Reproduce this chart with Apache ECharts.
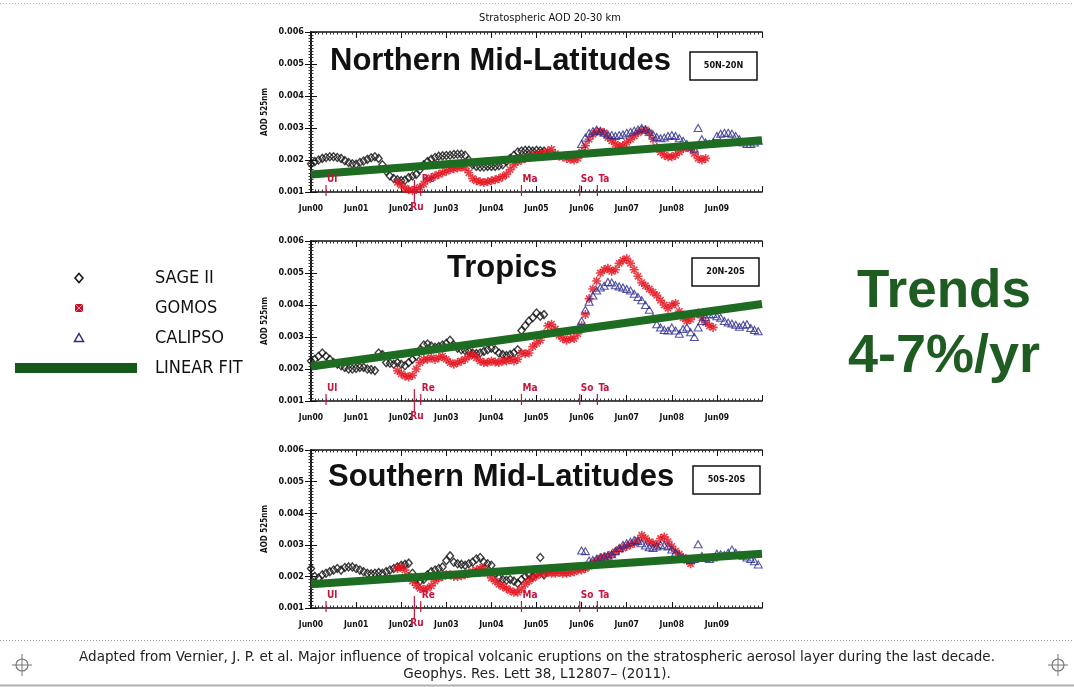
<!DOCTYPE html>
<html><head><meta charset="utf-8">
<script src="https://cdn.jsdelivr.net/npm/echarts@6/dist/echarts.min.js"></script>
<style>html,body{margin:0;padding:0;background:#fff}#c{width:1074px;height:687px}</style>
</head><body><div id="c"></div><script>
// ---------- data (AOD in units of 0.001, monthly, month 0 = Jun 2000) ----------
const xTickLabels = ['Jun00','Jun01','Jun02','Jun03','Jun04','Jun05','Jun06','Jun07','Jun08','Jun09'];
const panelTitles = ['Northern Mid-Latitudes','Tropics','Southern Mid-Latitudes'];
const bandLabels = ['50N-20N','20N-20S','50S-20S'];
const volcanoNames = ['Ul','Ru','Re','Ma','So','Ta'];
const volcanoMonths = [4, 27.5, 29.2, 56, 71.5, 76.2];
const volcanoBelow = [false, true, false, false, false, false];
const sageStart = 0, gomosStart = 23, calipsoStart = 72;
const fitMonths = [0, 120];

const sageNH = [1.88,1.95,2.0,2.05,2.08,2.1,2.1,2.08,2.05,1.98,1.92,1.88,1.87,1.92,1.97,2.02,2.07,2.1,2.05,1.85,1.65,1.5,1.42,1.38,1.36,1.37,1.45,1.5,1.55,1.7,1.85,1.95,2.02,2.08,2.12,2.13,2.14,2.15,2.17,2.18,2.18,2.15,2.0,1.85,1.8,1.78,1.78,1.8,1.8,1.8,1.82,1.85,1.95,2.05,2.15,2.25,2.28,2.3,2.3,2.28,2.3,2.29,2.28];
const gomosNH = [1.3,1.22,1.12,1.07,1.05,1.08,1.15,1.25,1.38,1.45,1.5,1.55,1.6,1.65,1.7,1.73,1.75,1.78,1.75,1.6,1.42,1.35,1.32,1.3,1.32,1.35,1.38,1.42,1.48,1.55,1.7,1.85,1.95,2.0,2.05,2.1,2.12,2.15,2.2,2.22,2.28,2.33,2.2,2.12,2.1,2.05,2.02,2.0,2.05,2.25,2.45,2.65,2.8,2.88,2.9,2.85,2.7,2.6,2.5,2.42,2.45,2.55,2.65,2.75,2.85,2.92,2.95,2.85,2.65,2.4,2.25,2.15,2.1,2.1,2.15,2.25,2.35,2.4,2.35,2.2,2.05,2.0,2.05];
const calipsoNH = [2.5,2.7,2.85,2.9,2.95,2.9,2.85,2.8,2.78,2.75,2.78,2.8,2.85,2.88,2.92,2.95,3.0,2.95,2.88,2.8,2.72,2.68,2.7,2.75,2.78,2.75,2.68,2.6,2.5,2.42,2.35,3.0,2.65,2.55,2.5,2.55,2.75,2.82,2.85,2.85,2.82,2.75,2.65,2.55,2.5,2.5,2.55,2.6];
const fitNH = [1.55, 2.62];

const sageTR = [2.25,2.3,2.4,2.5,2.4,2.3,2.2,2.15,2.1,2.05,2.0,2.0,2.02,2.05,2.05,2.0,1.98,1.95,2.5,2.45,2.2,2.18,2.15,2.2,2.15,2.1,2.2,2.3,2.4,2.6,2.75,2.78,2.72,2.68,2.7,2.75,2.8,2.9,2.75,2.65,2.6,2.58,2.55,2.5,2.48,2.5,2.55,2.6,2.65,2.6,2.5,2.45,2.42,2.45,2.5,2.6,3.2,3.35,3.5,3.6,3.75,3.65,3.7];
const gomosTR = [1.95,1.85,1.78,1.75,1.8,2.0,2.2,2.3,2.3,2.35,2.3,2.35,2.4,2.3,2.2,2.15,2.2,2.25,2.3,2.4,2.45,2.35,2.25,2.2,2.2,2.25,2.22,2.2,2.25,2.25,2.3,2.25,2.3,2.5,2.48,2.5,2.7,2.8,2.9,3.1,3.35,3.4,3.25,3.05,2.95,2.9,2.95,2.95,3.1,3.35,3.7,4.2,4.5,4.75,5.0,5.1,5.15,5.05,5.1,5.3,5.4,5.45,5.3,5.1,4.9,4.7,4.6,4.5,4.4,4.3,4.15,4.0,3.9,4.0,4.05,3.8,3.6,3.5,3.55,3.7,3.75,3.6,3.45,3.35,3.3];
const calipsoTR = [3.5,3.85,4.1,4.3,4.45,4.55,4.6,4.72,4.7,4.62,4.58,4.55,4.5,4.45,4.35,4.25,4.15,4.0,3.85,3.6,3.4,3.3,3.22,3.2,3.3,3.2,3.1,3.25,3.3,3.15,3.0,3.3,3.5,3.62,3.7,3.72,3.65,3.6,3.5,3.45,3.42,3.38,3.32,3.38,3.4,3.28,3.22,3.18];
const fitTR = [2.08, 4.03];

const sageSH = [2.25,2.0,1.95,2.05,2.1,2.15,2.2,2.25,2.2,2.28,2.3,2.3,2.25,2.2,2.15,2.1,2.08,2.1,2.12,2.1,2.15,2.2,2.25,2.3,2.35,2.38,2.42,2.1,1.9,1.85,1.9,2.05,2.15,2.2,2.25,2.3,2.5,2.65,2.45,2.4,2.38,2.35,2.4,2.45,2.55,2.6,2.45,2.4,2.35,2.1,1.95,1.9,1.88,1.9,1.85,1.78,1.9,2.0,2.05,2.0,2.1,2.6,2.05];
const gomosSH = [2.25,2.3,2.2,2.0,1.85,1.72,1.62,1.58,1.62,1.7,1.85,1.95,2.0,2.05,2.05,2.0,2.0,2.02,2.05,2.1,2.15,2.2,2.25,2.25,2.1,1.95,1.85,1.75,1.68,1.62,1.55,1.5,1.5,1.6,1.75,1.85,1.95,2.02,2.08,2.1,2.12,2.1,2.1,2.12,2.1,2.1,2.12,2.15,2.2,2.2,2.25,2.32,2.42,2.5,2.58,2.62,2.65,2.7,2.78,2.85,2.9,2.95,3.0,3.05,3.15,3.3,3.2,3.1,3.05,3.0,3.2,3.25,3.1,2.95,2.8,2.7,2.6,2.5,2.4];
const calipsoSH = [2.82,2.8,2.5,2.52,2.55,2.6,2.62,2.65,2.7,2.8,2.9,3.0,3.05,3.1,3.15,3.12,3.05,2.98,2.92,2.9,2.95,3.0,2.98,2.95,2.85,2.75,2.65,2.58,2.55,2.52,2.55,3.02,2.65,2.58,2.55,2.6,2.72,2.7,2.68,2.75,2.85,2.75,2.68,2.65,2.6,2.55,2.48,2.38];
const fitSH = [1.75, 2.72];

const panels = [
  {sage: sageNH, gomos: gomosNH, calipso: calipsoNH, fit: fitNH},
  {sage: sageTR, gomos: gomosTR, calipso: calipsoTR, fit: fitTR},
  {sage: sageSH, gomos: gomosSH, calipso: calipsoSH, fit: fitSH}
];

// ---------- layout / style ----------
const GL = 311, GW = 451;
const gridTops = [32, 241, 450], gridHs = [160, 160, 158];
const FONT = 'Liberation Sans, Arial, sans-serif';
const NARROW = 'Liberation Sans Narrow, DejaVu Sans Condensed, Liberation Sans, sans-serif';
const RED = '#e3101c', BLUE = '#2c2c8e', GREEN = '#1e6b22', VRED = '#c8143c';
const asterisk = 'path://M5,0L5,10M0,5L10,5M1.5,1.5L8.5,8.5M1.5,8.5L8.5,1.5';
const milli = v => v * 1e-3;

const grids = [], xAxes = [], yAxes = [], series = [];
gridTops.forEach((t, gi) => {
  grids.push({left: GL, top: t, width: GW, height: gridHs[gi], show: false});
  ['bottom', 'top'].forEach(pos => xAxes.push({
    type: 'value', gridIndex: gi, position: pos, min: 0, max: 120, interval: 12,
    axisLine: {show: true, onZero: false, lineStyle: {color: '#111', width: 1.6}},
    axisTick: {show: true, inside: true, length: 6, lineStyle: {color: '#111', width: 1}},
    minorTick: {show: true, splitNumber: 12, length: 2.5, lineStyle: {color: '#333', width: 1}},
    splitLine: {show: false},
    axisLabel: {show: pos === 'bottom', margin: 12, color: '#111', fontSize: 8.5, fontWeight: 'bold', fontFamily: NARROW,
      formatter: v => xTickLabels[Math.round(v / 12)] || ''}
  }));
  ['left', 'right'].forEach(pos => yAxes.push({
    type: 'value', gridIndex: gi, position: pos, min: 0.001, max: 0.006, interval: 0.001,
    name: pos === 'left' ? 'AOD 525nm' : '', nameLocation: 'middle', nameGap: 42, nameRotate: 90,
    nameTextStyle: {color: '#111', fontSize: 8, fontWeight: 'bold', fontFamily: NARROW},
    axisLine: {show: true, lineStyle: {color: '#111', width: 1.6}},
    axisTick: {show: true, inside: true, length: 6, lineStyle: {color: '#111', width: 1}},
    minorTick: {show: true, splitNumber: 10, length: 2.5, lineStyle: {color: '#333', width: 1}},
    splitLine: {show: false},
    axisLabel: {show: pos === 'left', margin: 7, color: '#111', fontSize: 9, fontWeight: 'bold', fontFamily: NARROW,
      formatter: v => v.toFixed(3)}
  }));
  const p = panels[gi];
  const xi = 2 * gi, yi = 2 * gi;
  series.push({
    type: 'scatter', name: 'SAGE II', xAxisIndex: xi, yAxisIndex: yi, symbol: 'diamond', symbolSize: [7, 8],
    itemStyle: {color: 'rgba(0,0,0,0)', borderColor: '#111', borderWidth: 1.4},
    data: p.sage.map((v, i) => [sageStart + i, milli(v)]), z: 3
  });
  series.push({
    type: 'scatter', name: 'GOMOS', xAxisIndex: xi, yAxisIndex: yi, symbol: asterisk, symbolSize: 9,
    itemStyle: {color: 'rgba(0,0,0,0)', borderColor: RED, borderWidth: 1.6},
    data: p.gomos.map((v, i) => [gomosStart + i, milli(v)]), z: 4
  });
  series.push({
    type: 'scatter', name: 'CALIPSO', xAxisIndex: xi, yAxisIndex: yi, symbol: 'triangle', symbolSize: [8, 7],
    itemStyle: {color: 'rgba(0,0,0,0)', borderColor: BLUE, borderWidth: 1.1},
    data: p.calipso.map((v, i) => [calipsoStart + i, milli(v)]), z: 5
  });
  series.push({
    type: 'line', name: 'LINEAR FIT', xAxisIndex: xi, yAxisIndex: yi, symbol: 'none',
    lineStyle: {color: GREEN, width: 8}, data: fitMonths.map((m, i) => [m, milli(p.fit[i])]), z: 6
  });
  series.push({
    type: 'custom', xAxisIndex: xi, yAxisIndex: yi, clip: false, z: 7,
    data: volcanoMonths.map((m, i) => [m, i]),
    renderItem: (params, api) => {
      const k = api.value(1);
      const c = api.coord([api.value(0), 0.001]);
      const below = volcanoBelow[k];
      return {type: 'group', children: [
        {type: 'line', shape: {x1: c[0], y1: c[1] + (below ? 11 : 4), x2: c[0], y2: c[1] - (below ? 12 : 7)},
          style: {stroke: VRED, lineWidth: 1.2}},
        {type: 'text', x: c[0] + (below ? -4 : 1), y: below ? c[1] + 10 : c[1] - 8,
          style: {text: volcanoNames[k], fill: VRED, font: 'bold 10px ' + NARROW,
            align: 'left', verticalAlign: below ? 'top' : 'bottom'}}
      ]};
    }
  });
});

const titles = [
  {text: 'Stratospheric AOD 20-30 km', left: 550, top: 13, textAlign: 'center', padding: 0,
    textStyle: {fontSize: 11, fontWeight: 'normal', color: '#111', fontFamily: NARROW}},
  {text: panelTitles[0], left: 330, top: 46, padding: 0, textStyle: {fontSize: 31, fontWeight: 'bold', color: '#111', fontFamily: FONT}},
  {text: panelTitles[1], left: 447, top: 253, padding: 0, textStyle: {fontSize: 31, fontWeight: 'bold', color: '#111', fontFamily: FONT}},
  {text: panelTitles[2], left: 328, top: 462, padding: 0, textStyle: {fontSize: 31, fontWeight: 'bold', color: '#111', fontFamily: FONT}}
];

const graphic = [
  {type: 'line', shape: {x1: 0, y1: 3.5, x2: 1074, y2: 3.5}, style: {stroke: '#d8a878', lineWidth: 1, lineDash: [1, 2]}},
  {type: 'line', shape: {x1: 0, y1: 640.5, x2: 1074, y2: 640.5}, style: {stroke: '#9a9a9a', lineWidth: 1, lineDash: [1, 2]}},
  {type: 'line', shape: {x1: 0, y1: 685.5, x2: 1074, y2: 685.5}, style: {stroke: '#b0b0b0', lineWidth: 2}}
];
[22, 1058].forEach(cx => {
  graphic.push({type: 'circle', shape: {cx: cx, cy: 665, r: 6}, style: {fill: 'none', stroke: '#777', lineWidth: 1.2}});
  graphic.push({type: 'line', shape: {x1: cx - 10, y1: 665, x2: cx + 10, y2: 665}, style: {stroke: '#777', lineWidth: 1}});
  graphic.push({type: 'line', shape: {x1: cx, y1: 654, x2: cx, y2: 676}, style: {stroke: '#777', lineWidth: 1}});
});
// band boxes
[[690, 52], [692, 258], [693, 466]].forEach((b, i) => {
  graphic.push({type: 'rect', shape: {x: b[0], y: b[1], width: 67, height: 28}, style: {fill: '#fff', stroke: '#111', lineWidth: 1.5}, z: 10});
  graphic.push({type: 'text', x: b[0] + 33.5, y: b[1] + 14, style: {text: bandLabels[i], fill: '#111', font: 'bold 9px ' + NARROW, align: 'center', verticalAlign: 'middle'}, z: 11});
});
// legend
const legendNames = ['SAGE II', 'GOMOS', 'CALIPSO', 'LINEAR FIT'];
const legY = [278, 308, 338, 368];
graphic.push({type: 'polygon', shape: {points: [[79, 273.5], [83, 278], [79, 282.5], [75, 278]]}, style: {fill: 'none', stroke: '#111', lineWidth: 1.5}});
graphic.push({type: 'rect', shape: {x: 75, y: 304, width: 8, height: 8}, style: {fill: '#c8102e'}});
graphic.push({type: 'line', shape: {x1: 75, y1: 304, x2: 83, y2: 312}, style: {stroke: '#f0a0a0', lineWidth: 1}});
graphic.push({type: 'line', shape: {x1: 83, y1: 304, x2: 75, y2: 312}, style: {stroke: '#f0a0a0', lineWidth: 1}});
graphic.push({type: 'polygon', shape: {points: [[79, 333.5], [83.5, 341.5], [74.5, 341.5]]}, style: {fill: 'none', stroke: BLUE, lineWidth: 1.5}});
graphic.push({type: 'rect', shape: {x: 15, y: 363, width: 122, height: 10}, style: {fill: '#15581a'}});
legendNames.forEach((n, i) => graphic.push({type: 'text', x: 155, y: legY[i], style: {text: n, fill: '#111', font: '18px ' + NARROW, align: 'left', verticalAlign: 'middle'}}));
// trends
graphic.push({type: 'text', x: 944, y: 292, style: {text: 'Trends', fill: '#1f5c22', font: 'bold 53px ' + FONT, align: 'center', verticalAlign: 'middle'}});
graphic.push({type: 'text', x: 944, y: 357, style: {text: '4-7%/yr', fill: '#1f5c22', font: 'bold 54px ' + FONT, align: 'center', verticalAlign: 'middle'}});
// caption
const CAPF = '13.5px DejaVu Sans, sans-serif';
graphic.push({type: 'text', x: 537, y: 657, style: {text: 'Adapted from Vernier, J. P. et al. Major influence of tropical volcanic eruptions on the stratospheric aerosol layer during the last decade.', fill: '#222', font: CAPF, align: 'center', verticalAlign: 'middle'}});
graphic.push({type: 'text', x: 537, y: 674, style: {text: 'Geophys. Res. Lett 38, L12807\u2013 (2011).', fill: '#222', font: CAPF, align: 'center', verticalAlign: 'middle'}});

const chart = echarts.init(document.getElementById('c'));
chart.setOption({
  animation: false, backgroundColor: '#fff',
  title: titles, grid: grids, xAxis: xAxes, yAxis: yAxes, series: series, graphic: graphic
});
</script></body></html>
